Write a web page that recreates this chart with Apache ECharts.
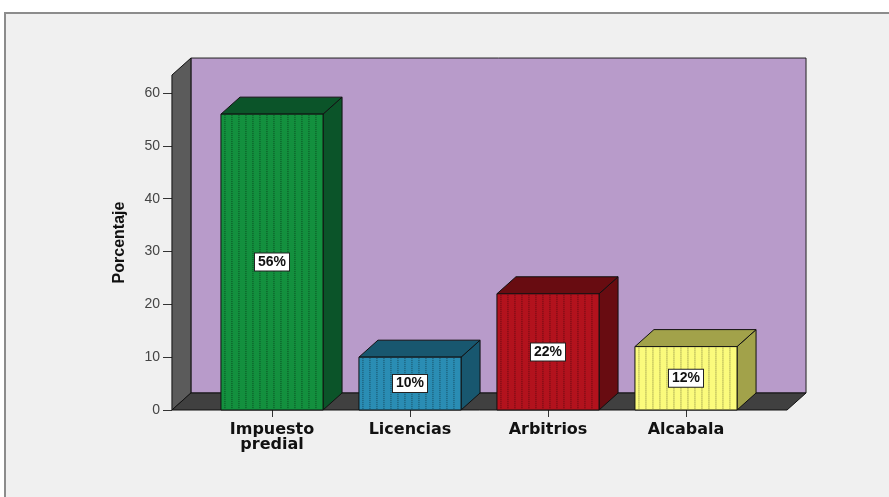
<!DOCTYPE html>
<html><head><meta charset="utf-8">
<script src="https://cdn.jsdelivr.net/npm/echarts@6/dist/echarts.min.js"></script>
<style>html,body{margin:0;padding:0;background:#fff}#c{width:889px;height:497px}</style>
</head><body><div id="c"></div>
<script>
// ---- data ----
const categories = ['Impuesto\npredial', 'Licencias', 'Arbitrios', 'Alcabala'];
const values = [56, 10, 22, 12];
const valueLabels = ['56%', '10%', '22%', '12%'];
const yTicks = [0, 10, 20, 30, 40, 50, 60];
const axisTitle = 'Porcentaje';

// ---- style ----
const frontColors = ['#13903e', '#2a8db4', '#b3121d', '#fbfb7c'];
const darkColors = ['#0b5429', '#18576f', '#680c11', '#a2a24a'];
const DX = 19, DY = -17, WALL_TOP = 63.4;

const chart = echarts.init(document.getElementById('c'), null, { renderer: 'canvas' });

function renderWalls(params, api) {
  const band = api.size([1, 0])[0];
  const c0 = api.coord([0, 0]);
  const c3 = api.coord([categories.length - 1, 0]);
  const t = api.coord([0, WALL_TOP]);
  const xl = c0[0] - 0.725 * band, xr = c3[0] + 0.732 * band;
  const yb = c0[1], yt = t[1];
  return {
    type: 'group',
    children: [
      { type: 'rect', shape: { x: xl + DX, y: yt + DY, width: xr - xl, height: yb - yt },
        style: { fill: '#b89bca', stroke: '#222', lineWidth: 1 } },
      { type: 'polygon', shape: { points: [[xl, yb], [xl, yt], [xl + DX, yt + DY], [xl + DX, yb + DY]] },
        style: { fill: '#5b5b5b', stroke: '#111', lineWidth: 1 } },
      { type: 'polygon', shape: { points: [[xl, yb], [xl + DX, yb + DY], [xr + DX, yb + DY], [xr, yb]] },
        style: { fill: '#404040', stroke: '#111', lineWidth: 1 } }
    ]
  };
}

function renderBar(params, api) {
  const i = api.value(0);
  const p = api.coord([i, api.value(1)]);
  const b = api.coord([i, 0]);
  const band = api.size([1, 0])[0];
  const w = band * 0.74;
  const x0 = p[0] - w / 2, x1 = x0 + w, yt = p[1], yb = b[1];
  const front = frontColors[i], dark = darkColors[i];
  const children = [
    { type: 'polygon', shape: { points: [[x1, yb], [x1, yt], [x1 + DX, yt + DY], [x1 + DX, yb + DY]] },
      style: { fill: dark, stroke: '#111', lineWidth: 1 } },
    { type: 'polygon', shape: { points: [[x0, yt], [x0 + DX, yt + DY], [x1 + DX, yt + DY], [x1, yt]] },
      style: { fill: dark, stroke: '#111', lineWidth: 1 } },
    { type: 'rect', shape: { x: x0, y: yt, width: w, height: yb - yt },
      style: { fill: front, stroke: '#111', lineWidth: 1 } }
  ];
  for (let x = x0 + 4; x < x1 - 2; x += 7) {
    children.push({ type: 'line', shape: { x1: x, y1: yt + 1, x2: x, y2: yb - 1 },
      style: { stroke: 'rgba(0,0,0,0.5)', lineWidth: 1, lineDash: [1, 1] } });
  }
  children.push({
    type: 'text', x: (x0 + x1) / 2, y: (yt + yb) / 2,
    style: { text: valueLabels[i], fill: '#111', font: 'bold 14px "Liberation Sans", Arial, sans-serif',
      align: 'center', verticalAlign: 'middle', backgroundColor: '#fff', borderColor: '#222', borderWidth: 1,
      padding: [2, 3, 1, 3] }
  });
  return { type: 'group', children };
}

chart.setOption({
  backgroundColor: '#ffffff',
  animation: false,
  graphic: [{ type: 'rect', z: -10, shape: { x: 5, y: 13, width: 900, height: 500 },
    style: { fill: '#f0f0f0', stroke: '#8c8c8c', lineWidth: 2 } }],
  grid: { left: 203, right: 134, top: 93, bottom: 87, containLabel: false },
  xAxis: {
    type: 'category', data: categories,
    axisLine: { show: false },
    axisTick: { show: true, alignWithLabel: true, length: 7, lineStyle: { color: '#333' } },
    axisLabel: { margin: 12, fontWeight: 'bold', fontSize: 16, fontFamily: 'DejaVu Sans', color: '#111', lineHeight: 15 },
    splitLine: { show: false }
  },
  yAxis: {
    type: 'value', min: yTicks[0], max: yTicks[yTicks.length - 1], interval: yTicks[1] - yTicks[0],
    offset: 31,
    axisLine: { show: false },
    axisTick: { show: true, length: 9, lineStyle: { color: '#333' } },
    axisLabel: { color: '#444', fontSize: 14, margin: 12, fontFamily: 'Liberation Sans' },
    splitLine: { show: false },
    name: axisTitle, nameLocation: 'middle', nameGap: 44,
    nameTextStyle: { fontWeight: 'bold', fontSize: 16, color: '#111', fontFamily: 'Liberation Sans', padding: [0, 0, 0, 18] }
  },
  series: [
    { type: 'custom', renderItem: renderWalls, data: [[0, 0]], encode: { x: 0, y: 1 }, z: 1, silent: true },
    { type: 'custom', renderItem: renderBar, data: values.map((v, i) => [i, v]), encode: { x: 0, y: 1 }, z: 2 }
  ]
});
</script></body></html>
